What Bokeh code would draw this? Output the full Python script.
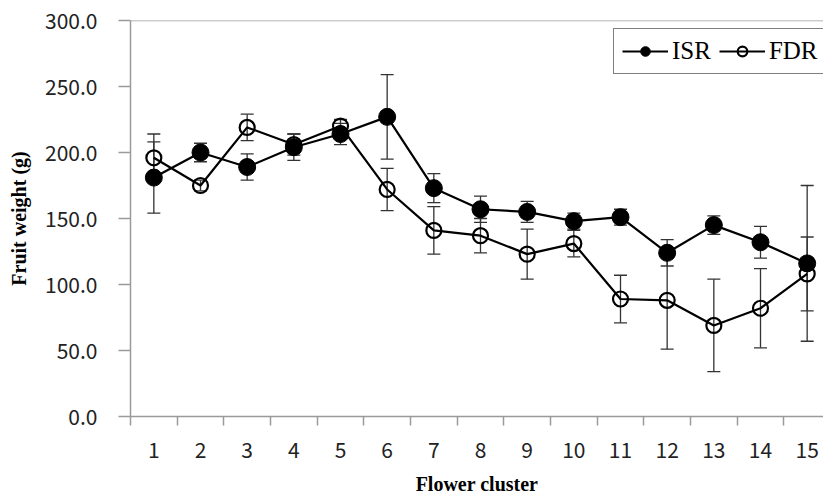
from bokeh.plotting import figure
from bokeh.models import (ColumnDataSource, Whisker, TeeHead, FixedTicker, NumeralTickFormatter,
                          Legend, LegendItem, Span)
from bokeh.embed import file_html
from bokeh.resources import INLINE

clusters = list(range(1, 16))
isr_mean = [181, 200, 189, 204, 214, 227, 173, 157, 155, 148, 151, 124, 145, 132, 116]
isr_err = [27, 7, 10, 10, 8, 32, 11, 10, 8, 6, 6, 10, 7, 12, 59]
fdr_mean = [196, 175, 219, 206, 220, 172, 141, 137, 123, 131, 89, 88, 69, 82, 108]
fdr_err = [18, 4, 10, 8, 5, 16, 18, 13, 19, 10, 18, 37, 35, 30, 28]
tick_labels = [str(c) for c in clusters]

src = ColumnDataSource(dict(
    x=clusters,
    isr=isr_mean,
    isr_lo=[m - e for m, e in zip(isr_mean, isr_err)],
    isr_hi=[m + e for m, e in zip(isr_mean, isr_err)],
    fdr=fdr_mean,
    fdr_lo=[m - e for m, e in zip(fdr_mean, fdr_err)],
    fdr_hi=[m + e for m, e in zip(fdr_mean, fdr_err)],
))

p = figure(width=823, height=497, x_range=(0.5, 15.35), y_range=(0, 300),
           output_backend="svg", toolbar_location=None,
           min_border_left=130, min_border_right=0, min_border_top=20, min_border_bottom=80)
p.outline_line_color = None
p.xgrid.visible = False
p.ygrid.visible = False

tick_font = "Noto Sans CJK KR"
# x axis: labels at centres, ticks at boundaries
p.xaxis.ticker = FixedTicker(ticks=clusters, minor_ticks=[c - 0.5 for c in clusters] + [15.5])
p.xaxis.major_label_overrides = {c: l for c, l in zip(clusters, tick_labels)}
p.xaxis.major_tick_out = 0
p.xaxis.major_tick_in = 0
p.xaxis.minor_tick_out = 9
p.xaxis.minor_tick_in = 0
p.xaxis.major_label_standoff = 16
p.xaxis.axis_label = "Flower cluster"
p.xaxis.axis_label_text_font = "Liberation Serif"
p.xaxis.axis_label_text_font_style = "bold"
p.xaxis.axis_label_text_font_size = "20px"
p.xaxis.axis_label_standoff = 12

p.yaxis.ticker = FixedTicker(ticks=[0, 50, 100, 150, 200, 250, 300])
p.yaxis.formatter = NumeralTickFormatter(format="0.0")
p.yaxis.major_tick_out = 12
p.yaxis.major_tick_in = 0
p.yaxis.minor_tick_out = 0
p.yaxis.minor_tick_in = 0
p.yaxis.major_label_standoff = 21
p.yaxis.axis_label = "Fruit weight (g)"
p.yaxis.axis_label_text_font = "Liberation Serif"
p.yaxis.axis_label_text_font_style = "bold"
p.yaxis.axis_label_text_font_size = "20px"
p.yaxis.axis_label_standoff = 12

for ax in (p.xaxis, p.yaxis):
    ax.axis_line_color = "#9a9a9a"
    ax.axis_line_width = 1.5
    ax.major_tick_line_color = "#9a9a9a"
    ax.minor_tick_line_color = "#9a9a9a"
    ax.major_tick_line_width = 1.5
    ax.minor_tick_line_width = 1.5
    ax.major_label_text_font = tick_font
    ax.major_label_text_font_size = "21px"
    ax.major_label_text_color = "#222222"
    ax.axis_label_text_color = "#000000"

p.add_layout(Span(location=300, dimension="width", line_color="#9a9a9a", line_width=1.5))

# error bars
for lo, hi in (("isr_lo", "isr_hi"), ("fdr_lo", "fdr_hi")):
    w = Whisker(source=src, base="x", lower=lo, upper=hi, line_color="#333333", line_width=1.3,
                upper_head=TeeHead(size=13, line_color="#333333", line_width=1.3),
                lower_head=TeeHead(size=13, line_color="#333333", line_width=1.3))
    p.add_layout(w)

l_fdr = p.line("x", "fdr", source=src, line_color="black", line_width=2.2)
m_fdr = p.scatter("x", "fdr", source=src, size=15, marker="circle", fill_alpha=0,
                  line_color="black", line_width=2.2)
l_isr = p.line("x", "isr", source=src, line_color="black", line_width=2.2)
m_isr = p.scatter("x", "isr", source=src, size=17, marker="circle", fill_color="black",
                  line_color="black")

legend = Legend(items=[LegendItem(label="ISR", renderers=[l_isr, m_isr]),
                       LegendItem(label="FDR", renderers=[l_fdr, m_fdr])],
                orientation="horizontal", location=(483, 342),
                label_text_font="Liberation Serif", label_text_font_size="25px",
                label_text_color="black",
                glyph_width=46, glyph_height=24, label_standoff=4, spacing=8,
                padding=8, margin=0,
                border_line_color="black", border_line_width=1.3,
                background_fill_color="white", background_fill_alpha=1)
p.add_layout(legend)

open("out.html", "w").write(file_html(p, INLINE))
